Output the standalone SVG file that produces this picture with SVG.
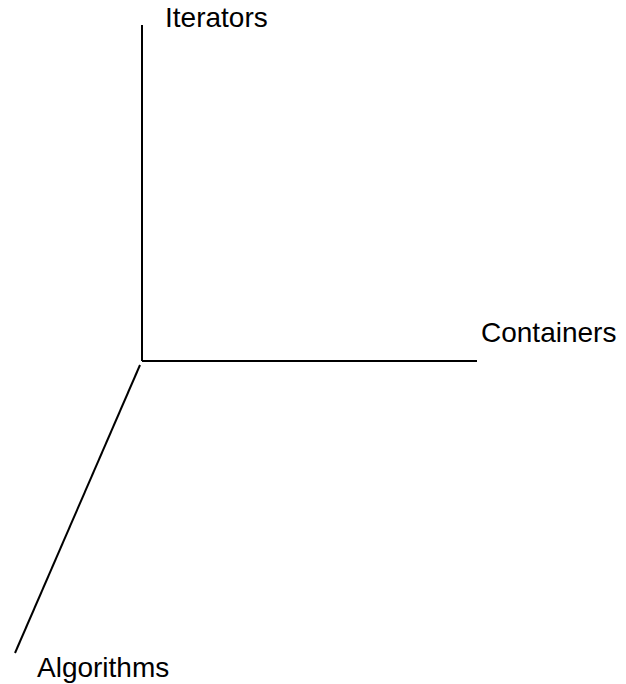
<svg xmlns="http://www.w3.org/2000/svg" width="626" height="684" viewBox="0 0 626 684">
  <style>
    .axis { stroke: #000; stroke-width: 2; fill: none; }
    .label { font-family: "Liberation Sans", Arial, sans-serif; font-size: 28px; fill: #000; }
  </style>
  <rect width="626" height="684" fill="#fff"/>
  <g id="connectors">
    <line class="axis" x1="142" y1="25" x2="142" y2="361"/>
    <line class="axis" x1="142" y1="361" x2="477" y2="361"/>
    <line class="axis" x1="140" y1="365" x2="15" y2="653"/>
  </g>
  <g id="iterators">
    <text class="label" x="165" y="27">Iterators</text>
  </g>
  <g id="containers">
    <text class="label" x="481" y="342">Containers</text>
  </g>
  <g id="algorithms">
    <text class="label" x="37" y="677">Algorithms</text>
  </g>
</svg>
